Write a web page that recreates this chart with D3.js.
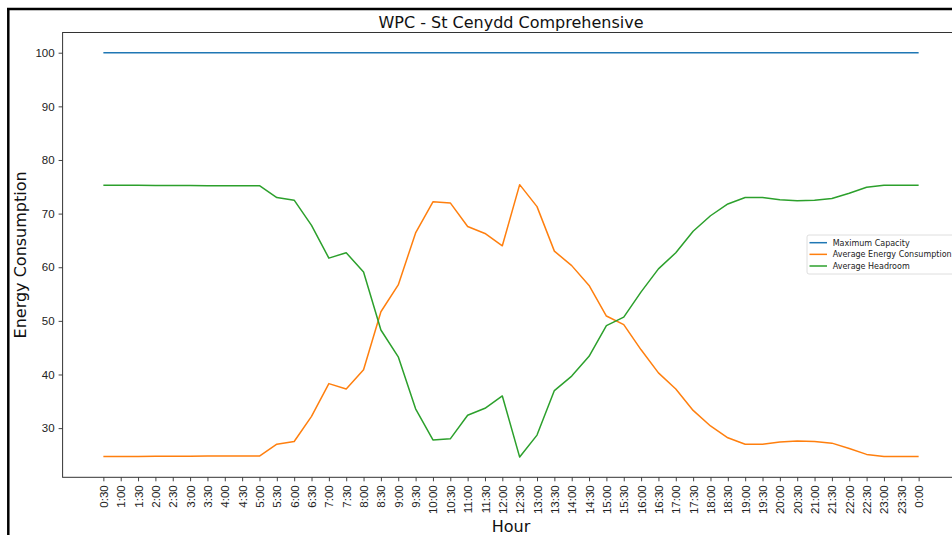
<!DOCTYPE html>
<html>
<head>
<meta charset="utf-8">
<script src="https://cdn.jsdelivr.net/npm/d3@7"></script>
<style>
  html, body { margin: 0; padding: 0; background: #fff; overflow: hidden; }
  svg { display: block; font-family: "DejaVu Sans", sans-serif; }
</style>
</head>
<body>
<div id="chart"></div>
<script>
// half-hour slots
const hours = ["0:30","1:00","1:30","2:00","2:30","3:00","3:30","4:00","4:30","5:00",
  "5:30","6:00","6:30","7:00","7:30","8:00","8:30","9:00","9:30","10:00",
  "10:30","11:00","11:30","12:00","12:30","13:00","13:30","14:00","14:30","15:00",
  "15:30","16:00","16:30","17:00","17:30","18:00","18:30","19:00","19:30","20:00",
  "20:30","21:00","21:30","22:00","22:30","23:00","23:30","0:00"];

const maxCapacity = [100,100,100,100,100,100,100,100,100,100,100,100,100,100,100,100,
  100,100,100,100,100,100,100,100,100,100,100,100,100,100,100,100,
  100,100,100,100,100,100,100,100,100,100,100,100,100,100,100,100];

const avgConsumption = [24.7,24.7,24.7,24.75,24.75,24.75,24.8,24.8,24.8,24.8,
  27.0,27.5,32.2,38.3,37.3,40.9,51.7,56.7,66.4,72.2,
  72.0,67.6,66.3,64.0,75.4,71.3,63.0,60.3,56.6,50.9,
  49.3,44.6,40.3,37.3,33.3,30.4,28.2,27.0,27.0,27.4,
  27.6,27.5,27.2,26.2,25.1,24.7,24.7,24.7];

const avgHeadroom = [75.3,75.3,75.3,75.25,75.25,75.25,75.2,75.2,75.2,75.2,
  73.0,72.5,67.8,61.7,62.7,59.1,48.3,43.3,33.6,27.8,
  28.0,32.4,33.7,36.0,24.6,28.7,37.0,39.7,43.4,49.1,
  50.7,55.4,59.7,62.7,66.7,69.6,71.8,73.0,73.0,72.6,
  72.4,72.5,72.8,73.8,74.9,75.3,75.3,75.3];

const yTicks = [30, 40, 50, 60, 70, 80, 90, 100];

const series = [
  { name: "Maximum Capacity", color: "#1f77b4", values: maxCapacity },
  { name: "Average Energy Consumption", color: "#ff7f0e", values: avgConsumption },
  { name: "Average Headroom", color: "#2ca02c", values: avgHeadroom }
];

const W = 952, H = 535;
const ax = { left: 62.6, right: 959.4, top: 32.5, bottom: 477.3 };

const svg = d3.select("#chart").append("svg")
  .attr("width", W).attr("height", H);

// outer frame of the screenshot
svg.append("line").attr("x1", 7).attr("x2", W).attr("y1", 9).attr("y2", 9)
  .attr("stroke", "#000").attr("stroke-width", 2.5);
svg.append("line").attr("x1", 8.3).attr("x2", 8.3).attr("y1", 8).attr("y2", H)
  .attr("stroke", "#000").attr("stroke-width", 2.5);

// matplotlib-style 5% margins
const n = hours.length;
const xm = (n - 1) * 0.05;
const x = d3.scaleLinear().domain([-xm, n - 1 + xm]).range([ax.left, ax.right]);
const lo = 24.6, hi = 100, ym = (hi - lo) * 0.05;
const y = d3.scaleLinear().domain([lo - ym, hi + ym]).range([ax.bottom, ax.top]);

// axes
const xAxis = svg.append("g")
  .attr("transform", `translate(0,${ax.bottom})`)
  .call(d3.axisBottom(x).tickValues(d3.range(n)).tickFormat(i => hours[i])
    .tickSize(4).tickPadding(3).tickSizeOuter(0));
xAxis.selectAll("text")
  .attr("transform", "rotate(-90)")
  .attr("text-anchor", "end")
  .attr("x", -8).attr("y", 0).attr("dy", "0.35em")
  .style("font-size", "11.5px").attr("fill", "#222");

const yAxis = svg.append("g")
  .attr("transform", `translate(${ax.left},0)`)
  .call(d3.axisLeft(y).tickValues(yTicks).tickSize(4).tickPadding(4).tickSizeOuter(0));
yAxis.selectAll("text").style("font-size", "11.5px").attr("fill", "#222");

svg.selectAll(".domain").remove();
svg.selectAll(".tick line").attr("stroke", "#444");

// spines
svg.append("rect")
  .attr("x", ax.left).attr("y", ax.top)
  .attr("width", ax.right - ax.left).attr("height", ax.bottom - ax.top)
  .attr("fill", "none").attr("stroke", "#333").attr("stroke-width", 1);

// lines
const line = d3.line().x((d, i) => x(i)).y(d => y(d));
svg.selectAll(".series")
  .data(series)
  .enter().append("path")
  .attr("class", "series")
  .attr("d", d => line(d.values))
  .attr("fill", "none")
  .attr("stroke", d => d.color)
  .attr("stroke-width", 1.5)
  .attr("stroke-linejoin", "round");

// titles
svg.append("text")
  .attr("x", (ax.left + ax.right) / 2).attr("y", 28)
  .attr("text-anchor", "middle")
  .style("font-size", "16px").attr("fill", "#111")
  .text("WPC - St Cenydd Comprehensive");

svg.append("text")
  .attr("x", (ax.left + ax.right) / 2).attr("y", 531.5)
  .attr("text-anchor", "middle")
  .style("font-size", "16px").attr("fill", "#111")
  .text("Hour");

svg.append("text")
  .attr("transform", `translate(26,${(ax.top + ax.bottom) / 2}) rotate(-90)`)
  .attr("text-anchor", "middle")
  .style("font-size", "16px").attr("fill", "#111")
  .text("Energy Consumption");

// legend
const lg = svg.append("g").attr("transform", "translate(807,235)");
lg.append("rect")
  .attr("width", 160).attr("height", 39).attr("rx", 2)
  .attr("fill", "#fff").attr("fill-opacity", 0.8)
  .attr("stroke", "#d6d6d6").attr("stroke-width", 0.8);
const item = lg.selectAll(".item")
  .data(series)
  .enter().append("g")
  .attr("transform", (d, i) => `translate(0,${7.7 + i * 11.65})`);
item.append("line")
  .attr("x1", 2.5).attr("x2", 20)
  .attr("stroke", d => d.color).attr("stroke-width", 1.5);
item.append("text")
  .attr("x", 25.7).attr("dy", "0.35em")
  .style("font-size", "8px").attr("fill", "#222")
  .text(d => d.name);
</script>
</body>
</html>
